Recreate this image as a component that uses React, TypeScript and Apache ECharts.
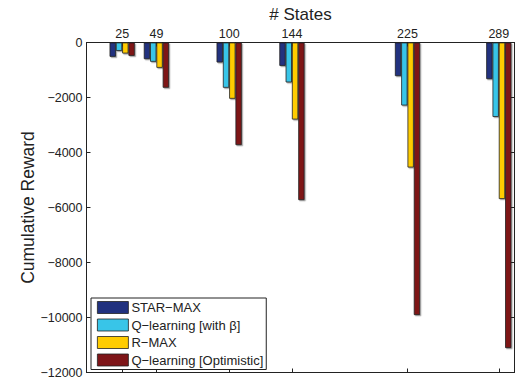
import React, { useEffect, useRef } from "react";
import * as echarts from "echarts";

const states = [25, 49, 100, 144, 225, 289];
const seriesNames = [
  "STAR\u2212MAX",
  "Q\u2212learning [with \u03b2]",
  "R\u2212MAX",
  "Q\u2212learning [Optimistic]",
];
const starMax = [-520, -605, -725, -850, -1220, -1330];
const qBeta = [-305, -700, -1645, -1450, -2290, -2705];
const rMax = [-400, -920, -2045, -2800, -4545, -5690];
const qOpt = [-485, -1645, -3730, -5730, -9910, -11110];
const colors = ["#21317f", "#38c5e8", "#ffcc00", "#7e1518"];
const yTicks = [0, -2000, -4000, -6000, -8000, -10000, -12000];

const FONT = "'Liberation Sans', Arial, Helvetica, sans-serif";

export default function App() {
  const ref = useRef<HTMLDivElement>(null);
  useEffect(() => {
    if (!ref.current) return;
    const chart = echarts.init(ref.current, null, { renderer: "svg" });
    const values = [starMax, qBeta, rMax, qOpt];
    const fmt = (v: number) => (v < 0 ? "\u2212" + Math.abs(v) : String(v));
    chart.setOption({
      animation: false,
      textStyle: { fontFamily: FONT },
      grid: { left: 86.5, right: 1.5, top: 42.5, bottom: 11.5, containLabel: false, outerBoundsMode: "none" },
      legend: {
        orient: "vertical",
        left: 91,
        top: 298,
        padding: [3, 3, 3, 6],
        itemGap: 4.5,
        itemWidth: 31,
        itemHeight: 12,
        backgroundColor: "#fff",
        borderColor: "#222",
        borderWidth: 1,
        icon: "rect",
        textStyle: { fontFamily: FONT, fontSize: 13, color: "#222", padding: [0, 0, 0, -2] },
        itemStyle: { borderColor: "#222", borderWidth: 0.8 },
        data: seriesNames,
      },
      xAxis: [
        {
          type: "value",
          position: "top",
          min: 0,
          max: 300,
          name: "# States",
          nameLocation: "middle",
          nameGap: 20,
          nameMoveOverlap: false,
          nameTextStyle: { fontFamily: FONT, fontSize: 17, color: "#222" },
          axisLine: { show: true, onZero: false, lineStyle: { color: "#222", width: 1 } },
          axisTick: { show: true, inside: true, length: 4, customValues: states, lineStyle: { color: "#222" } },
          axisLabel: { show: true, customValues: states, margin: 2, fontSize: 12.5, color: "#222", fontFamily: FONT },
          splitLine: { show: false },
        },
        {
          type: "value",
          position: "bottom",
          min: 0,
          max: 300,
          axisLine: { show: true, onZero: false, lineStyle: { color: "#222", width: 1 } },
          axisTick: { show: true, inside: true, length: 4, customValues: states, lineStyle: { color: "#222" } },
          axisLabel: { show: false },
          splitLine: { show: false },
        },
      ],
      yAxis: [
        {
          type: "value",
          position: "left",
          min: -12000,
          max: 0,
          interval: 2000,
          name: "Cumulative Reward",
          nameLocation: "middle",
          nameGap: 50,
          nameMoveOverlap: false,
          nameTextStyle: { fontFamily: FONT, fontSize: 17.5, color: "#222" },
          axisLine: { show: true, onZero: false, lineStyle: { color: "#222", width: 1 } },
          axisTick: { show: true, inside: true, length: 4, customValues: yTicks, lineStyle: { color: "#222" } },
          axisLabel: { show: true, margin: 4, fontSize: 12.5, color: "#222", fontFamily: FONT, formatter: fmt },
          splitLine: { show: false },
        },
        {
          type: "value",
          position: "right",
          min: -12000,
          max: 0,
          interval: 2000,
          axisLine: { show: true, onZero: false, lineStyle: { color: "#222", width: 1 } },
          axisTick: { show: true, inside: true, length: 4, lineStyle: { color: "#222" } },
          axisLabel: { show: false },
          splitLine: { show: false },
        },
      ],
      series: seriesNames.map((name, i) => ({
        name,
        type: "bar",
        xAxisIndex: 0,
        yAxisIndex: 0,
        barWidth: 6.3,
        barGap: "0%",
        data: states.map((s, j) => [s, values[i][j]]),
        itemStyle: {
          color: colors[i],
          borderColor: "#222",
          borderWidth: 0.8,
          shadowColor: "rgba(0,0,0,0.35)",
          shadowOffsetX: 1.2,
          shadowOffsetY: 1.2,
          shadowBlur: 0,
        },
        z: 2,
      })),
    });
    return () => chart.dispose();
  }, []);
  return <div ref={ref} style={{ width: 516, height: 384, position: "absolute", left: 0, top: 0, background: "#fff" }} />;
}
